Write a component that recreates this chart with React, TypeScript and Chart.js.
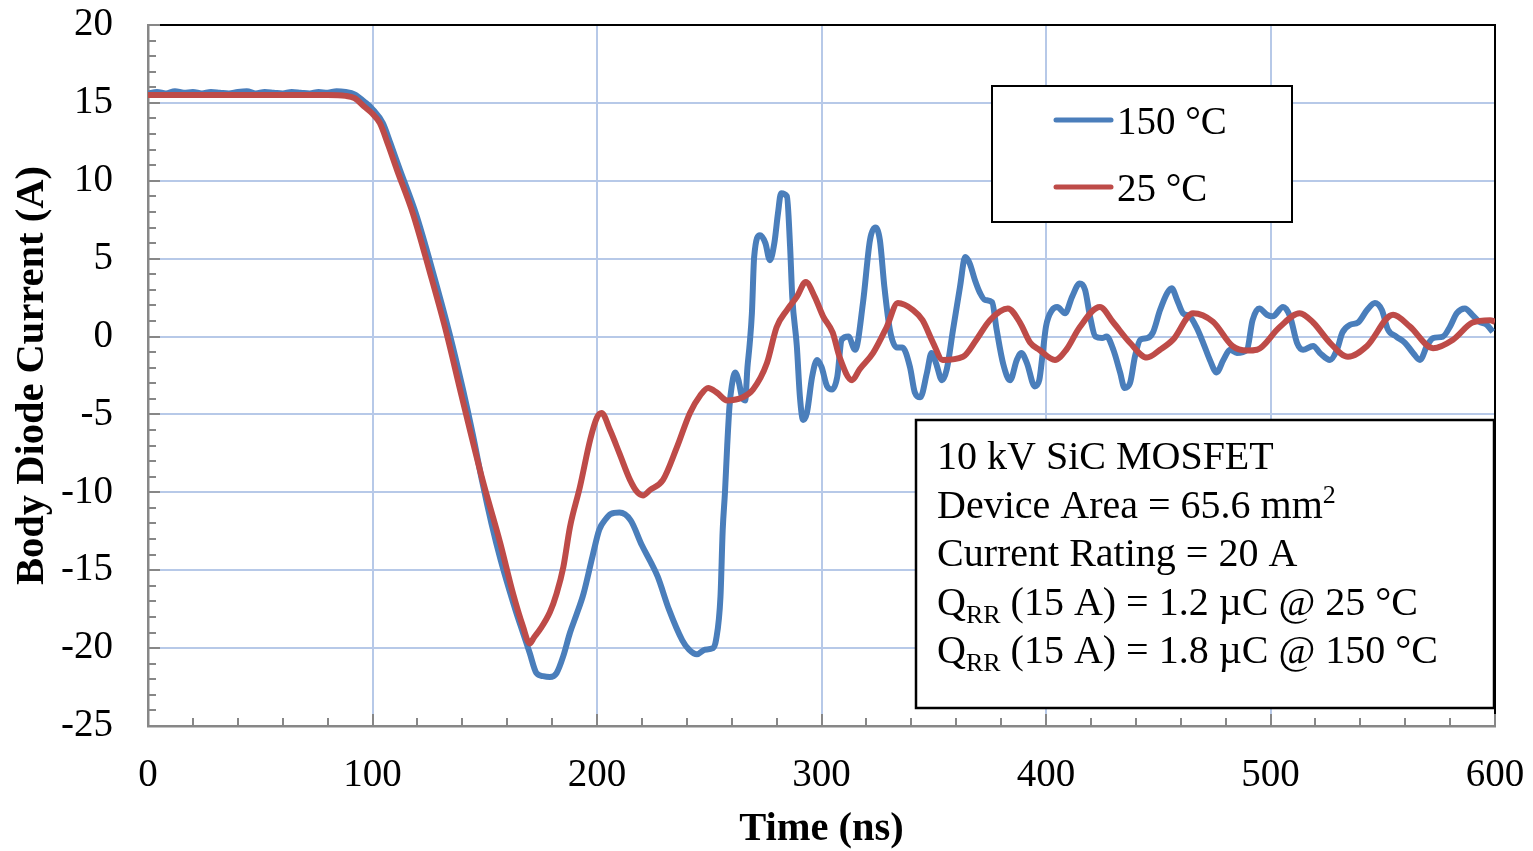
import React, { useEffect, useRef } from "react";
import { Chart, registerables } from "chart.js";

Chart.register(...registerables);

// ---------- data ----------
const seriesLabels = ["150 °C", "25 °C"];
const seriesColors = ["#4a7ebb", "#be4b48"];

const time150 = [
  0, 4, 8, 12, 16, 20, 24, 28, 32, 36,
  40, 44, 48, 52, 56, 60, 64, 68, 72, 76,
  80, 84, 88, 92, 97, 100, 104.6, 108, 112.2, 119.3,
  127, 134.3, 140.3, 144.7, 149, 153, 157, 161, 164,
  167, 170, 173, 176, 179, 182, 185, 188, 191, 194,
  198, 201, 204, 206, 210, 215, 220, 224, 227, 232,
  238, 241, 244.5, 248, 251.7, 253, 255, 256, 257, 258,
  259, 260, 261.5, 263, 264.6, 266, 267, 268, 269, 270,
  272.6, 275, 277, 279, 280.6, 282, 284.6, 286, 287, 289,
  290.4, 291.8, 293.5, 295.8, 298, 300, 302.5, 304.7, 307, 309,
  312, 315, 318.5, 321.6, 324, 326, 328, 330.5, 333.6, 336,
  339.4, 341.6, 344, 347, 349, 351, 353.7, 355.8, 358.6, 361.7,
  364, 366, 368.4, 370.6, 372.8, 376, 378, 381, 384, 387,
  389, 391.5, 395, 397, 398.7, 400, 402.7, 405, 408.5, 411.6,
  415, 417.4, 419.6, 422, 425, 427, 430, 433, 435, 437.4,
  439.6, 442, 445, 447.6, 450.8, 454, 456, 458.4, 461, 464,
  467, 470, 473, 476, 479, 482, 485, 489.5, 492, 495,
  498.4, 501, 505.6, 508.7, 511.8, 514.5, 519, 522, 526.5, 529.6,
  532, 535.4, 539, 543, 546.5, 549.6, 552.3, 556, 559.9, 563.5,
  566.6, 569.7, 572.4, 576.8, 580, 583, 586.6, 589.8, 593, 596.4,
  599,
];
const current150 = [
  15.6, 15.7, 15.6, 15.75, 15.65, 15.7, 15.6, 15.7, 15.65, 15.6,
  15.7, 15.75, 15.6, 15.7, 15.65, 15.6, 15.7, 15.65, 15.6, 15.7,
  15.65, 15.75, 15.7, 15.55, 15.0, 14.6, 13.7, 12.4, 10.7, 7.9,
  4.1, 0.2, -3.4, -6.3, -9.4, -12.0, -14.3, -16.3, -17.7,
  -19.0, -20.3, -21.6, -21.8, -21.85, -21.6, -20.5, -19.0, -17.8, -16.5,
  -14.1, -12.4, -11.7, -11.4, -11.3, -11.8, -13.4, -14.5, -15.4, -17.5,
  -19.5, -20.1, -20.4, -20.1, -20.0, -19.5, -16.7, -12.4, -10.0, -7.0,
  -4.5, -3.2, -2.3, -2.8, -3.9, -4.1, -2.0, -0.5, 1.5, 5.1,
  6.5, 6.0, 4.9, 6.0, 7.9, 9.2, 9.0, 5.8, 2.5, -0.6,
  -3.9, -5.35, -4.9, -2.6, -1.5, -1.95, -3.2, -3.4, -2.6, -0.2,
  0, -0.85, 2.2, 6.2, 7.0, 6.2, 3.2, 0.4, -0.7, -0.7,
  -1.95, -3.6, -3.9, -2.3, -1.05, -1.7, -2.8, -2.1, 0.45, 3.2,
  5.1, 4.7, 3.6, 2.8, 2.35, 2.2, 0.45, -1.8, -2.8, -1.5,
  -1.05, -1.7, -3.2, -2.8, -0.85, 0.65, 1.7, 1.9, 1.5, 2.55,
  3.4, 3.0, 1.3, 0, -0.1, 0, -0.85, -2.3, -3.3, -3.0,
  -1.3, -0.2, -0.1, 0.25, 1.7, 2.8, 3.1, 2.35, 1.5, 1.3,
  0.6, -0.4, -1.5, -2.3, -1.5, -0.85, -1.05, -0.85, 1.05, 1.8,
  1.4, 1.3, 1.9, 1.3, -0.4, -0.85, -0.6, -1.05, -1.5, -0.85,
  0.25, 0.75, 0.9, 1.7, 2.15, 1.7, 0.45, 0, -0.4, -1.05,
  -1.5, -0.6, -0.1, 0, 0.65, 1.5, 1.8, 1.4, 0.95, 0.75,
  0.3,
];

const time25 = [
  0, 20, 40, 60, 80, 88, 92, 96, 100, 103.3,
  107, 110.9, 118, 125.6, 133, 139, 143.4, 149, 156.8, 162.6, 167,
  170, 172, 174.6, 179, 182, 185, 188, 192.4, 197, 200,
  202, 205.8, 210, 214.7, 218, 220.5, 223.6, 229.4, 235.6, 241.4,
  245.9, 249.5, 253.4, 258, 265, 269.5, 275.7, 280, 284.6, 289,
  293, 297, 300.7, 305, 308, 313.6, 317, 323, 329, 334,
  340.8, 345, 349.7, 354, 363, 369, 375, 383, 388.4, 393,
  397, 404, 409, 415, 424, 430, 437.4, 445, 450.8, 456.6,
  465.5, 474.4, 483, 489.5, 494, 504, 513, 519, 526.5, 534.5,
  543, 554.6, 562, 572.4, 581.3, 590, 597.8, 600,
];
const current25 = [
  15.5, 15.5, 15.5, 15.5, 15.5, 15.45, 15.3, 14.8, 14.3, 13.7,
  12.3, 10.7, 7.9, 4.1, 0.2, -3.4, -6.0, -9.2, -13.2, -16.5, -18.6,
  -19.7, -19.3, -18.8, -17.7, -16.5, -14.8, -12.2, -9.65, -6.6, -5.2,
  -4.9, -6.0, -7.5, -9.2, -10.0, -10.2, -9.85, -9.2, -7.1, -4.9,
  -3.8, -3.3, -3.6, -4.1, -3.9, -3.4, -1.7, 0.6, 1.7, 2.55,
  3.5, 2.55, 1.3, 0.25, -1.3, -2.8, -2.1, -1.05, 0.6, 2.15,
  1.7, 1.05, -0.4, -1.5, -1.3, -0.2, 1.05, 1.8, 0.9, -0.4,
  -0.85, -1.5, -0.85, 0.6, 1.9, 0.9, -0.4, -1.35, -0.85, -0.2,
  1.5, 0.95, -0.6, -0.9, -0.85, 0.6, 1.5, 0.9, -0.4, -1.3,
  -0.6, 1.4, 0.65, -0.75, -0.2, 0.9, 1.05, 0.95,
];

const xTickValues = [0, 100, 200, 300, 400, 500, 600];
const yTickValues = [-25, -20, -15, -10, -5, 0, 5, 10, 15, 20];

const xTitle = "Time (ns)";
const yTitle = "Body Diode Current (A)";

// text box lines: segments [text, kind] where kind: n = normal, sub, sup
const infoLines: [string, string][][] = [
  [["10 kV SiC MOSFET", "n"]],
  [["Device Area = 65.6 mm", "n"], ["2", "sup"]],
  [["Current Rating = 20 A", "n"]],
  [["Q", "n"], ["RR", "sub"], [" (15 A) = 1.2 µC @ 25 °C", "n"]],
  [["Q", "n"], ["RR", "sub"], [" (15 A) = 1.8 µC @ 150 °C", "n"]],
];

// ---------- styling ----------
const SERIF = "'Liberation Serif', 'Times New Roman', Times, serif";
const GRID = "#b7c9e8";
const AXIS = "#878787";

const decorPlugin = {
  id: "decor",
  beforeDatasetsDraw(chart: any) {
    const { ctx, chartArea: a, scales } = chart;
    const x = scales.x;
    const y = scales.y;
    ctx.save();
    // plot area outline (top & right)
    ctx.strokeStyle = "#000";
    ctx.lineWidth = 2;
    ctx.beginPath();
    ctx.moveTo(a.left, a.top);
    ctx.lineTo(a.right, a.top);
    ctx.lineTo(a.right, a.bottom);
    ctx.stroke();
    // tick marks (inside)
    ctx.strokeStyle = AXIS;
    ctx.lineWidth = 2;
    ctx.beginPath();
    for (let v = 0; v <= 600; v += 20) {
      const px = Math.round(x.getPixelForValue(v));
      const len = v % 100 === 0 ? 12 : 8;
      ctx.moveTo(px, a.bottom);
      ctx.lineTo(px, a.bottom - len);
    }
    for (let v = -25; v <= 20; v += 1) {
      const py = Math.round(y.getPixelForValue(v));
      const len = v % 5 === 0 ? 12 : 8;
      ctx.moveTo(a.left, py);
      ctx.lineTo(a.left + len, py);
    }
    ctx.stroke();
    ctx.restore();
  },
  afterDraw(chart: any) {
    const { ctx } = chart;
    const ds = chart.data.datasets;
    ctx.save();
    // legend box
    ctx.fillStyle = "#fff";
    ctx.fillRect(992, 86, 300, 136);
    ctx.strokeStyle = "#000";
    ctx.lineWidth = 2;
    ctx.strokeRect(992, 86, 300, 136);
    const rows = [120, 187];
    ctx.font = `39px ${SERIF}`;
    ctx.textBaseline = "alphabetic";
    ctx.textAlign = "left";
    rows.forEach((ry, i) => {
      ctx.strokeStyle = ds[i].borderColor;
      ctx.lineWidth = 5;
      ctx.lineCap = "round";
      ctx.beginPath();
      ctx.moveTo(1056, ry);
      ctx.lineTo(1111, ry);
      ctx.stroke();
      ctx.fillStyle = "#000";
      ctx.fillText(ds[i].label, 1117, ry + 14);
    });
    // info box
    ctx.fillStyle = "#fff";
    ctx.fillRect(916, 420, 578, 288);
    ctx.strokeStyle = "#000";
    ctx.lineWidth = 2.5;
    ctx.lineCap = "butt";
    ctx.strokeRect(916, 420, 578, 288);
    ctx.fillStyle = "#000";
    infoLines.forEach((segs, i) => {
      let cx = 937;
      const base = 469 + i * 48.5;
      segs.forEach(([t, kind]) => {
        let dy = 0;
        if (kind === "n") ctx.font = `40px ${SERIF}`;
        else {
          ctx.font = `26px ${SERIF}`;
          dy = kind === "sub" ? 8 : -15;
        }
        ctx.fillText(t, cx, base + dy);
        cx += ctx.measureText(t).width;
      });
    });
    ctx.restore();
  },
};

export default function App() {
  const ref = useRef<HTMLCanvasElement | null>(null);

  useEffect(() => {
    if (!ref.current) return;
    const toPts = (xs: number[], ys: number[]) =>
      xs.map((t, i) => ({ x: t, y: ys[i] }));
    const chart = new Chart(ref.current, {
      type: "line",
      data: {
        datasets: [
          {
            label: seriesLabels[0],
            data: toPts(time150, current150),
            borderColor: seriesColors[0],
            backgroundColor: seriesColors[0],
            borderWidth: 6,
            pointRadius: 0,
            cubicInterpolationMode: "monotone",
            order: 2,
          },
          {
            label: seriesLabels[1],
            data: toPts(time25, current25),
            borderColor: seriesColors[1],
            backgroundColor: seriesColors[1],
            borderWidth: 6,
            pointRadius: 0,
            cubicInterpolationMode: "monotone",
            order: 1,
          },
        ],
      },
      options: {
        responsive: false,
        animation: false,
        layout: { padding: { top: 25, right: 38, left: 0, bottom: 0 } },
        plugins: {
          legend: { display: false },
          tooltip: { enabled: false },
        },
        scales: {
          x: {
            type: "linear",
            min: 0,
            max: 600,
            afterBuildTicks: (s: any) => {
              s.ticks = xTickValues.map((v) => ({ value: v }));
            },
            afterFit: (s: any) => {
              s.height = 125;
              s.paddingLeft = 0;
              s.paddingRight = 0;
            },
            ticks: {
              color: "#000",
              padding: 26,
              font: { family: SERIF, size: 39 },
            },
            grid: { color: GRID, lineWidth: 2, drawTicks: false },
            border: { color: AXIS, width: 2.5 },
            title: {
              display: true,
              text: xTitle,
              color: "#000",
              font: { family: SERIF, size: 40.5, weight: "bold", lineHeight: 1 },
              padding: { top: 0, bottom: 1 },
            },
          },
          y: {
            type: "linear",
            min: -25,
            max: 20,
            afterBuildTicks: (s: any) => {
              s.ticks = yTickValues.map((v) => ({ value: v }));
            },
            afterFit: (s: any) => {
              s.width = 148;
              s.paddingTop = 0;
              s.paddingBottom = 0;
            },
            ticks: {
              color: "#000",
              padding: 35,
              font: { family: SERIF, size: 39 },
            },
            grid: { color: GRID, lineWidth: 2, drawTicks: false },
            border: { color: AXIS, width: 2.5 },
            title: {
              display: true,
              text: yTitle,
              color: "#000",
              font: { family: SERIF, size: 40.5, weight: "bold", lineHeight: 1 },
              padding: { top: 12, bottom: 0 },
            },
          },
        },
      },
      plugins: [decorPlugin],
    } as any);
    return () => chart.destroy();
  }, []);

  return (
    <div style={{ position: "fixed", left: 0, top: 0, width: 1533, height: 851, background: "#fff" }}>
      <canvas ref={ref} width={1533} height={851} style={{ display: "block" }} />
    </div>
  );
}
